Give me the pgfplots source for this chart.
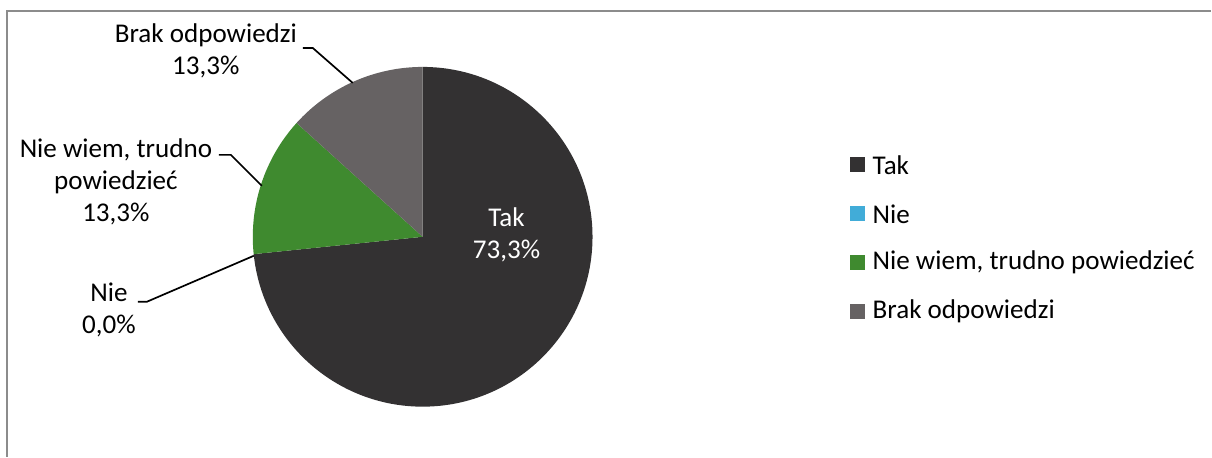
\documentclass[border=0pt]{standalone}
\usepackage{pgfplots}
\pgfplotsset{compat=1.18}
\usepackage{pgfplotstable}
\usepackage{fontspec}
\setmainfont{Carlito}
\definecolor{takc}{HTML}{333132}
\definecolor{niec}{HTML}{41ACD8}
\definecolor{nwc}{HTML}{3F8A2F}
\definecolor{brakc}{HTML}{666263}
\definecolor{framec}{HTML}{8C8C8C}
\pgfplotstableread[col sep=semicolon]{
label;value
Tak;73.3
Nie;0.0
Nie wiem, trudno powiedzieć;13.3
Brak odpowiedzi;13.3
}\piedata
\begin{document}
\begin{tikzpicture}
\pgfplotstablegetelem{0}{value}\of\piedata \pgfmathsetmacro\vA{\pgfplotsretval}
\pgfplotstablegetelem{1}{value}\of\piedata \pgfmathsetmacro\vB{\pgfplotsretval}
\pgfplotstablegetelem{2}{value}\of\piedata \pgfmathsetmacro\vC{\pgfplotsretval}
\pgfplotstablegetelem{3}{value}\of\piedata \pgfmathsetmacro\vD{\pgfplotsretval}
\pgfmathsetmacro\total{\vA+\vB+\vC+\vD}
\pgfmathsetmacro\eA{90-\vA/\total*360}
\pgfmathsetmacro\eB{\eA-\vB/\total*360}
\pgfmathsetmacro\eC{\eB-\vC/\total*360}
\pgfmathsetmacro\eD{\eC-\vD/\total*360}
\begin{axis}[hide axis, scale only axis, x=0.5bp, y=0.5bp,
  xmin=0, xmax=1212, ymin=0, ymax=457, clip=false]
\path (axis cs:0,0) rectangle (axis cs:1212,457);
% frame
\draw[framec, line width=1bp] (axis cs:7,0) -- (axis cs:7,446) -- (axis cs:1212,446);
% slices
\fill[takc] (axis cs:423,220) -- ++(90:85bp) arc[start angle=90, end angle=\eA, radius=85bp] -- cycle;
\fill[nwc] (axis cs:423,220) -- ++(\eB:85bp) arc[start angle=\eB, end angle=\eC, radius=85bp] -- cycle;
\fill[brakc] (axis cs:423,220) -- ++(\eC:85bp) arc[start angle=\eC, end angle=\eD, radius=85bp] -- cycle;
% labels
\tikzset{lbl/.style={align=center, inner sep=0pt, font=\fontsize{13.6}{16.3}\selectfont}}
\node[lbl] at (axis cs:206,406) {Brak odpowiedzi\\13,3\%};
\node[lbl] at (axis cs:116,275) {Nie wiem, trudno\\powiedzieć\\13,3\%};
\node[lbl] at (axis cs:109,147) {Nie\\0,0\%};
\node[lbl, text=white] at (axis cs:507,222) {Tak\\73,3\%};
% leader lines
\draw[black, line width=0.85bp] (axis cs:303,409) -- (axis cs:313,409) -- (axis cs:353,374);
\draw[black, line width=0.85bp] (axis cs:219,302) -- (axis cs:231,302) -- (axis cs:262,271);
\draw[black, line width=0.85bp] (axis cs:138,155) -- (axis cs:147,155) -- (axis cs:254,201);
% legend
\fill[takc] (axis cs:851,285) rectangle (axis cs:866,300);
\fill[niec] (axis cs:851,236) rectangle (axis cs:866,251);
\fill[nwc] (axis cs:851,187) rectangle (axis cs:866,202);
\fill[brakc] (axis cs:851,138) rectangle (axis cs:866,153);
\node[lbl, anchor=west] at (axis cs:873,292) {Tak};
\node[lbl, anchor=west] at (axis cs:873,243) {Nie};
\node[lbl, anchor=west] at (axis cs:873,194) {Nie wiem, trudno powiedzieć};
\node[lbl, anchor=west] at (axis cs:873,145) {Brak odpowiedzi};
\end{axis}
\end{tikzpicture}
\end{document}
